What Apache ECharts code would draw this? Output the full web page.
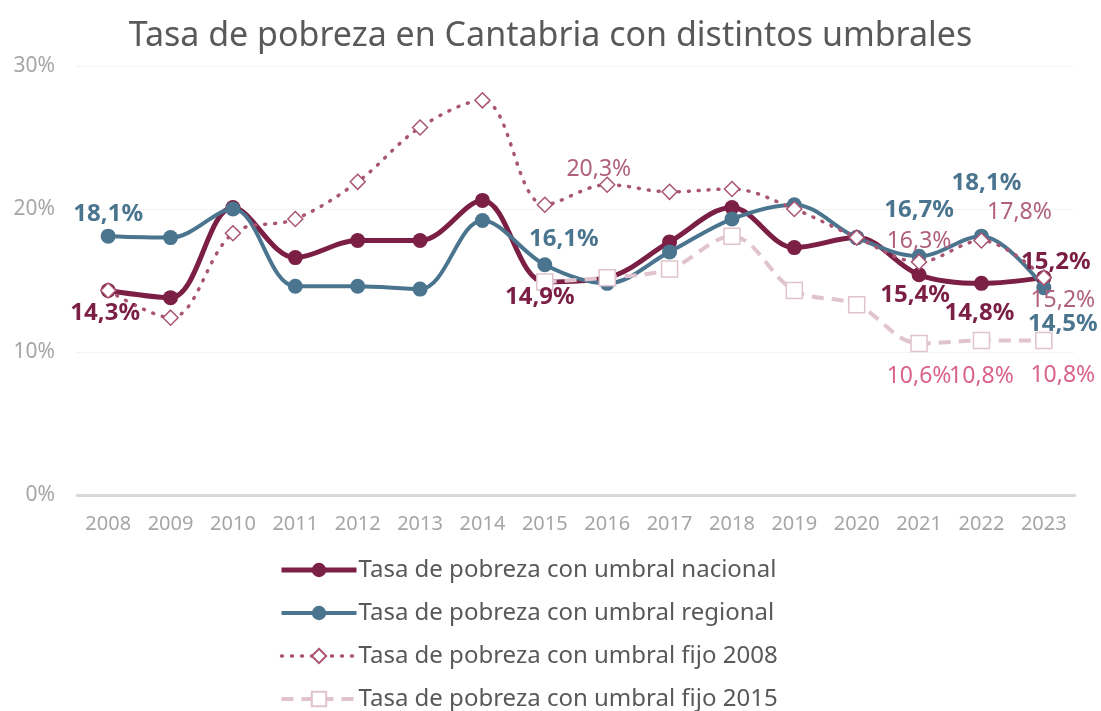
<!DOCTYPE html>
<html>
<head>
<meta charset="utf-8">
<script src="https://cdn.jsdelivr.net/npm/echarts@6/dist/echarts.min.js"></script>
<style>
  html, body { margin: 0; padding: 0; background: #fff; }
  #chart { width: 1101px; height: 711px; }
</style>
</head>
<body>
<div id="chart"></div>
<script>
const years = ['2008', '2009', '2010', '2011', '2012', '2013', '2014', '2015',
  '2016', '2017', '2018', '2019', '2020', '2021', '2022', '2023'];
const nacional = [14.3, 13.8, 20.1, 16.6, 17.8, 17.8, 20.6, 14.9, 15.2, 17.7, 20.1, 17.3, 18.0, 15.4, 14.8, 15.2];
const regional = [18.1, 18.0, 20.0, 14.6, 14.6, 14.4, 19.2, 16.1, 14.8, 17.0, 19.3, 20.3, 18.0, 16.7, 18.1, 14.5];
const fijo2008 = [14.3, 12.4, 18.3, 19.3, 21.9, 25.7, 27.6, 20.3, 21.7, 21.2, 21.4, 20.0, 18.0, 16.3, 17.8, 15.2];
const fijo2015 = [null, null, null, null, null, null, null, 14.9, 15.2, 15.8, 18.1, 14.3, 13.3, 10.6, 10.8, 10.8];
const yTicks = [0, 10, 20, 30];

const FONT = '"Noto Sans", sans-serif';
const fmt = v => v.toFixed(1).replace('.', ',') + '%';

const C_NAC = '#7b1f45';
const C_REG = '#4b758f';
const C_08 = '#a95472';
const C_15 = '#e0c3cd';

// which points carry a data label, and where it sits
const labelsNac = {
  0: { position: 'bottom', offset: [-3, -2] },
  7: { position: 'bottom', offset: [-5, -9] },
  13: { position: 'bottom', offset: [-4, -4] },
  14: { position: 'bottom', offset: [-2, 5] },
  15: { position: 'top', offset: [12, 9] }
};
const labelsReg = {
  0: { position: 'top', offset: [0, 2] },
  7: { position: 'top', offset: [19, -1] },
  13: { position: 'top', offset: [0, -22] },
  14: { position: 'top', offset: [5, -29] },
  15: { position: 'bottom', offset: [19, 12] }
};
const labels08 = {
  7: { position: 'top', offset: [54, -11] },
  13: { position: 'top', offset: [0, 4] },
  14: { position: 'top', offset: [38, -3] },
  15: { position: 'bottom', offset: [19, -2] }
};
const labels15 = {
  13: { position: 'bottom', offset: [0, 8] },
  14: { position: 'bottom', offset: [0, 11] },
  15: { position: 'bottom', offset: [19, 10] }
};

function withLabels(values, specs, style) {
  return values.map((v, i) => {
    if (specs[i] === undefined || v === null) return v;
    return {
      value: v,
      label: Object.assign({ show: true, formatter: p => fmt(p.value) }, style, specs[i])
    };
  });
}

const chart = echarts.init(document.getElementById('chart'));

const option = {
  animation: false,
  title: {
    text: 'Tasa de pobreza en Cantabria con distintos umbrales',
    left: 'center',
    top: 14,
    textStyle: { fontFamily: FONT, fontSize: 34, fontWeight: 'normal', color: '#595959' }
  },
  legend: {
    orient: 'vertical',
    left: 279,
    top: 558,
    height: 170,
    padding: 0,
    itemWidth: 75,
    itemHeight: 18,
    itemGap: 19,
    textStyle: { fontFamily: FONT, fontSize: 24, color: '#595959', padding: [0, 0, 0, -3] },
    data: [
      { name: 'Tasa de pobreza con umbral nacional', lineStyle: { width: 5 } },
      { name: 'Tasa de pobreza con umbral regional', lineStyle: { width: 4 } },
      { name: 'Tasa de pobreza con umbral fijo 2008', lineStyle: { width: 3.5 } },
      { name: 'Tasa de pobreza con umbral fijo 2015', lineStyle: { width: 4 } }
    ]
  },
  grid: { left: 77, right: 26, top: 66, bottom: 216 },
  xAxis: {
    type: 'category',
    data: years,
    boundaryGap: true,
    axisLine: { lineStyle: { color: '#d9d9d9', width: 3 } },
    axisTick: { show: false },
    axisLabel: { color: '#a6a6a6', fontFamily: FONT, fontSize: 20, margin: 19 }
  },
  yAxis: {
    type: 'value',
    min: yTicks[0],
    max: yTicks[yTicks.length - 1],
    interval: yTicks[1] - yTicks[0],
    axisLine: { show: false },
    axisTick: { show: false },
    axisLabel: { color: '#a6a6a6', fontFamily: FONT, fontSize: 21, margin: 22, formatter: '{value}%' },
    splitLine: { lineStyle: { color: '#e8e8e8', type: 'dotted' } }
  },
  series: [
    {
      name: 'Tasa de pobreza con umbral nacional',
      type: 'line',
      smooth: 0.35,
      symbol: 'circle',
      symbolSize: 15,
      lineStyle: { color: C_NAC, width: 5 },
      itemStyle: { color: C_NAC },
      data: withLabels(nacional, labelsNac,
        { color: C_NAC, fontFamily: FONT, fontSize: 24, fontWeight: 'bold' })
    },
    {
      name: 'Tasa de pobreza con umbral regional',
      type: 'line',
      smooth: 0.35,
      symbol: 'circle',
      symbolSize: 15,
      lineStyle: { color: C_REG, width: 4 },
      itemStyle: { color: C_REG },
      data: withLabels(regional, labelsReg,
        { color: C_REG, fontFamily: FONT, fontSize: 24, fontWeight: 'bold' })
    },
    {
      name: 'Tasa de pobreza con umbral fijo 2008',
      type: 'line',
      smooth: 0.35,
      symbol: 'diamond',
      symbolSize: 15,
      lineStyle: { color: C_08, width: 3.5, type: [1, 9], cap: 'round' },
      itemStyle: { color: '#ffffff', borderColor: C_08, borderWidth: 1.5 },
      data: withLabels(fijo2008, labels08,
        { color: '#b0607c', fontFamily: FONT, fontSize: 23, fontWeight: 'normal' })
    },
    {
      name: 'Tasa de pobreza con umbral fijo 2015',
      type: 'line',
      smooth: 0.35,
      symbol: 'rect',
      symbolSize: 16,
      lineStyle: { color: C_15, width: 4, type: [12, 8] },
      itemStyle: { color: '#ffffff', borderColor: C_15, borderWidth: 1.5 },
      data: withLabels(fijo2015, labels15,
        { color: '#d9628c', fontFamily: FONT, fontSize: 23, fontWeight: 'normal' })
    }
  ]
};

chart.setOption(option);
</script>
</body>
</html>
